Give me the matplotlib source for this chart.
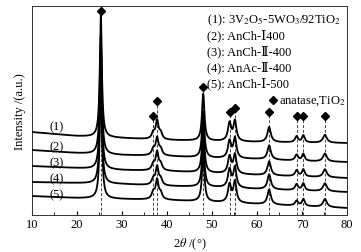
import numpy as np
import matplotlib
matplotlib.use("Agg")
import matplotlib.pyplot as plt
from matplotlib.ticker import MultipleLocator

plt.rcParams['font.family'] = ['Liberation Serif', 'DejaVu Serif', 'Noto Sans CJK SC']
plt.rcParams['mathtext.fontset'] = 'stix'
plt.rcParams['font.size'] = 9

# ---- data ----
peak_pos = [25.3, 36.95, 37.8, 38.6, 48.05, 53.9, 55.1, 62.7, 68.8, 70.3, 75.1]
peak_fwhm = [0.55, 0.8, 0.75, 0.8, 0.65, 0.85, 0.8, 0.9, 0.8, 0.7, 1.0]

heights_1 = [122, 6, 18, 6, 47, 18, 20, 15, 6, 7, 8]
heights_2 = [118, 6, 17, 6, 46, 17, 20, 14, 6, 7, 8]
heights_3 = [120, 6, 18, 6, 47, 17, 19, 14, 6, 7, 8]
heights_4 = [121, 6, 18, 6, 46, 18, 20, 15, 6, 7, 8]
heights_5 = [124, 7, 19, 6, 48, 18, 21, 15, 5, 7, 8]

bg_2theta = [10, 20, 30, 40, 50, 60, 70, 80]
bg_1 = [83, 79, 77, 75, 74, 73, 72.5, 72]
bg_2 = [65, 62, 60, 59, 57, 56, 54, 53]
bg_3 = [49, 47, 45, 44, 42, 40, 38.5, 37]
bg_4 = [33, 32, 31, 29, 28, 26, 24.5, 23]
bg_5 = [19, 17, 16, 15, 13, 11, 9, 7]

trace_labels = ["(1)", "(2)", "(3)", "(4)", "(5)"]
label_y = [89, 69, 53, 37, 21]

marker_pos = [25.3, 36.95, 37.8, 48.05, 53.9, 55.1, 62.7, 68.8, 70.3, 75.1]
marker_y = [204, 99, 114, 128, 103, 107, 103, 99, 99, 99]

legend_lines = [
    "(1): 3V$_2$O$_5$-5WO$_3$/92TiO$_2$",
    "(2): AnCh-\u2160400",
    "(3): AnCh-\u2161-400",
    "(4): AnAc-\u2161-400",
    "(5): AnCh-\u2160-500",
]
legend_y = [196, 180, 164, 148, 132]

heights = [heights_1, heights_2, heights_3, heights_4, heights_5]
bgs = [bg_1, bg_2, bg_3, bg_4, bg_5]

fig = plt.figure(figsize=(3.61, 2.53), dpi=100)
ax = fig.add_axes([0.0886, 0.146, 0.8726, 0.826])

x = np.linspace(10, 80, 3000)
for h, bg in zip(heights, bgs):
    y = np.interp(x, bg_2theta, bg)
    for p, w, hh in zip(peak_pos, peak_fwhm, h):
        g = (w / 2) ** 2
        y = y + hh * g / ((x - p) ** 2 + g)
    ax.plot(x, y, color='black', lw=1.3, zorder=3)

for lab, ly in zip(trace_labels, label_y):
    ax.text(15.5, ly, lab, ha='center', va='center', fontsize=9)

for mp, my in zip(marker_pos, marker_y):
    ax.plot([mp, mp], [0, my], color='#444444', lw=0.7, ls=(0, (3, 2)), zorder=2)
    ax.plot(mp, my, marker='D', color='black', ms=4, zorder=4)

for t, ly in zip(legend_lines, legend_y):
    ax.text(49.0, ly, t, ha='left', va='center', fontsize=9)

ax.plot(63.6, 115, marker='D', color='black', ms=4)
ax.text(65.0, 115, "anatase,TiO$_2$", ha='left', va='center', fontsize=9)

ax.set_xlim(10, 80)
ax.set_ylim(0, 209)
ax.xaxis.set_major_locator(MultipleLocator(10))
ax.xaxis.set_minor_locator(MultipleLocator(5))
ax.tick_params(axis='x', which='both', direction='in', top=False, labelsize=9, pad=2)
ax.tick_params(axis='x', which='major', length=3)
ax.tick_params(axis='x', which='minor', length=2)
ax.set_yticks([])
for s in ax.spines.values():
    s.set_linewidth(0.7)
    s.set_color('#333333')

ax.set_xlabel(r"2$\theta$ /(°)", fontsize=9, labelpad=4)
ax.set_ylabel("Intensity /(a.u.)", fontsize=9, labelpad=4)

fig.savefig("out.png", dpi=100)
